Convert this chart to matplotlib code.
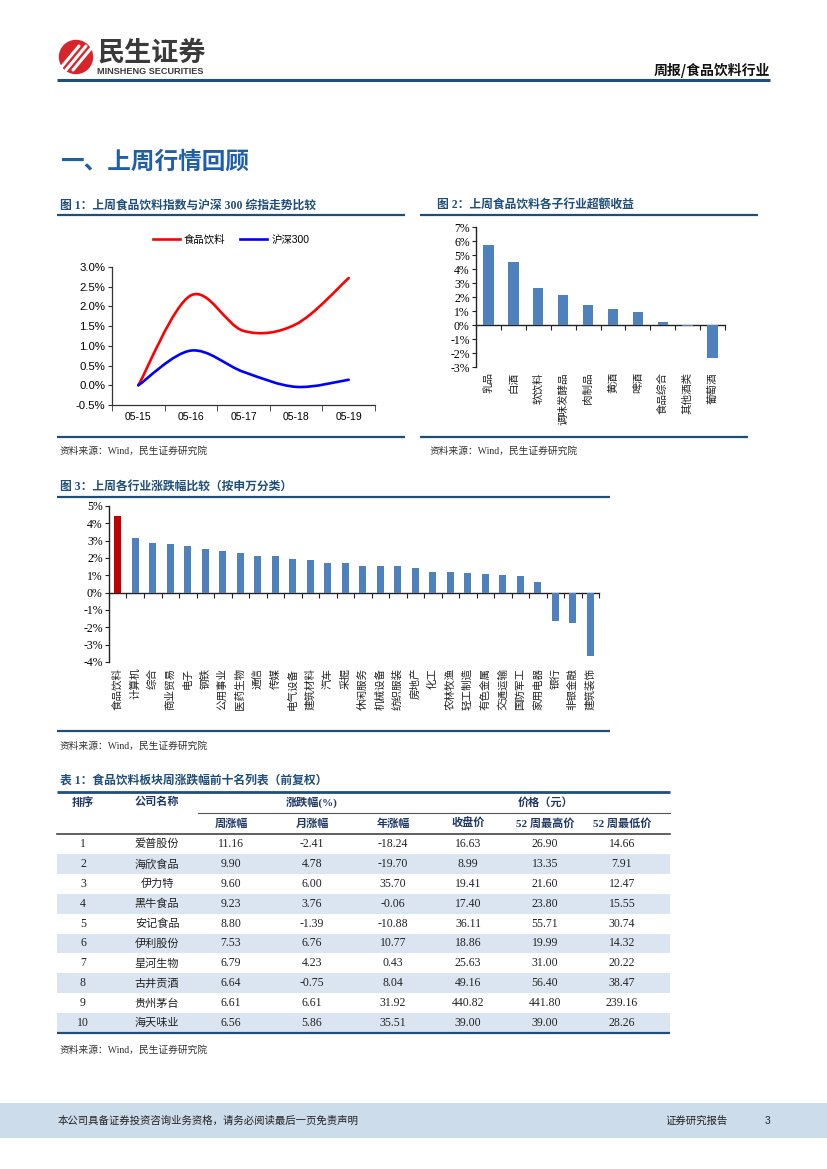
import numpy as np
import matplotlib
matplotlib.use("Agg")
import matplotlib.pyplot as plt
import matplotlib.patches as mpatches
import matplotlib.transforms as mtrans
from matplotlib.path import Path
from matplotlib.lines import Line2D

plt.rcParams['font.family'] = ['Liberation Sans', 'Noto Sans CJK SC']
plt.rcParams['axes.unicode_minus'] = False

W, H = 827, 1169
CJK = ['Noto Sans CJK SC']
SERIF = ['Liberation Serif', 'Noto Sans CJK SC']
SANS = ['Liberation Sans', 'Noto Sans CJK SC']
NAVY = '#1f4e79'
BAR = '#4f81bd'

# 图1 data
dates = ['05-15', '05-16', '05-17', '05-18', '05-19']
food_idx = [0.0, 2.28, 1.38, 1.55, 2.72]
hs300 = [0.0, 0.88, 0.34, -0.04, 0.14]

# 图2 data
sub_names = ['乳品', '白酒', '软饮料', '调味发酵品', '肉制品', '黄酒', '啤酒', '食品综合', '其他酒类', '葡萄酒']
sub_excess = [5.68, 4.50, 2.62, 2.14, 1.43, 1.17, 0.95, 0.19, -0.05, -2.36]

# 图3 data
ind_names = ['食品饮料', '计算机', '综合', '商业贸易', '电子', '钢铁', '公用事业', '医药生物', '通信', '传媒',
             '电气设备', '建筑材料', '汽车', '采掘', '休闲服务', '机械设备', '纺织服装', '房地产', '化工',
             '农林牧渔', '轻工制造', '有色金属', '交通运输', '国防军工', '家用电器', '银行', '非银金融', '建筑装饰']
ind_chg = [4.42, 3.16, 2.89, 2.83, 2.71, 2.52, 2.38, 2.29, 2.11, 2.11,
           1.94, 1.90, 1.69, 1.69, 1.54, 1.53, 1.51, 1.40, 1.22,
           1.22, 1.12, 1.07, 1.03, 0.95, 0.62, -1.65, -1.76, -3.64]

# 表1 data
ranks = list(range(1, 11))
companies = ['爱普股份', '海欣食品', '伊力特', '黑牛食品', '安记食品', '伊利股份', '星河生物', '古井贡酒', '贵州茅台', '海天味业']
week_chg = [11.16, 9.90, 9.60, 9.23, 8.80, 7.53, 6.79, 6.64, 6.61, 6.56]
month_chg = [-2.41, 4.78, 6.00, 3.76, -1.39, 6.76, 4.23, -0.75, 6.61, 5.86]
year_chg = [-18.24, -19.70, 35.70, -0.06, -10.88, 10.77, 0.43, 8.04, 31.92, 35.51]
close_px = [16.63, 8.99, 19.41, 17.40, 36.11, 18.86, 25.63, 49.16, 440.82, 39.00]
high_52w = [26.90, 13.35, 21.60, 23.80, 55.71, 19.99, 31.00, 56.40, 441.80, 39.00]
low_52w = [14.66, 7.91, 12.47, 15.55, 30.74, 14.32, 20.22, 38.47, 239.16, 28.26]

fig = plt.figure(figsize=(8.27, 11.69), dpi=100)

# page overlay in pixel coordinates
bg = fig.add_axes([0, 0, 1, 1], zorder=0)
bg.set_xlim(0, W)
bg.set_ylim(H, 0)
bg.axis('off')


def px_axes(x0, y0, x1, y1):
    return fig.add_axes([x0 / W, 1 - y1 / H, (x1 - x0) / W, (y1 - y0) / H], zorder=2)


def hline(y, x0, x1, color=NAVY, lw=1.6):
    bg.plot([x0, x1], [y, y], color=color, lw=lw, solid_capstyle='butt')


# header
bg.add_patch(mpatches.Circle((76, 57), 16.5, color='#d7262b'))
for dx in (-7, 0, 7):
    bg.plot([66 + dx, 86 + dx], [70, 46], color='white', lw=2.2, solid_capstyle='round')
bg.text(97, 53, '民生证券', fontsize=19.5, fontweight='bold', color='#3a3a3a', family=CJK, va='center')
bg.text(97, 71, 'MINSHENG SECURITIES', fontsize=6.6, fontweight='bold', color='#3a3a3a', va='center')
bg.text(770, 70, '周报/食品饮料行业', fontsize=10, fontweight='bold', color='#111111', family=CJK,
        ha='right', va='center')
hline(80, 57, 770, lw=2.2)

bg.text(60, 162, '一、上周行情回顾', fontsize=17, fontweight='bold', color='#1f5fa8', family=CJK, va='center')

# figure titles and rules
bg.text(60, 206, '图 1：上周食品饮料指数与沪深 300 综指走势比较', fontsize=8.5, fontweight='bold',
        color=NAVY, family=SERIF, va='center')
hline(215, 57, 405)
hline(437, 57, 405)
bg.text(60, 451, '资料来源：Wind，民生证券研究院', fontsize=7, color='#333333', family=SERIF, va='center')

bg.text(437, 206, '图 2：上周食品饮料各子行业超额收益', fontsize=8.5, fontweight='bold',
        color=NAVY, family=SERIF, va='center')
hline(215, 420, 758)
hline(437, 420, 748)
bg.text(430, 451, '资料来源：Wind，民生证券研究院', fontsize=7, color='#333333', family=SERIF, va='center')

bg.text(60, 487, '图 3：上周各行业涨跌幅比较（按申万分类）', fontsize=8.5, fontweight='bold',
        color=NAVY, family=SERIF, va='center')
hline(497, 57, 610)
hline(731, 57, 610)
bg.text(60, 746, '资料来源：Wind，民生证券研究院', fontsize=7, color='#333333', family=SERIF, va='center')


def smooth_path(xs, ys):
    pts = np.column_stack([xs, ys]).astype(float)
    n = len(pts)
    verts = [pts[0]]
    codes = [Path.MOVETO]
    for i in range(n - 1):
        p0 = pts[max(i - 1, 0)]
        p1 = pts[i]
        p2 = pts[i + 1]
        p3 = pts[min(i + 2, n - 1)]
        verts += [p1 + (p2 - p0) / 6, p2 - (p3 - p1) / 6, p2]
        codes += [Path.CURVE4] * 3
    return Path(verts, codes)


# 图1
ax1 = px_axes(112, 267, 375, 405)
xs = np.arange(len(dates))
for vals, col in ((food_idx, '#ff0000'), (hs300, '#0000ff')):
    ax1.add_patch(mpatches.PathPatch(smooth_path(xs, vals), facecolor='none', edgecolor=col,
                                     lw=1.9, capstyle='round', joinstyle='round'))
ax1.set_xlim(-0.5, len(dates) - 0.5)
ax1.set_ylim(-0.5, 3.0)
ax1.set_yticks(np.arange(-0.5, 3.01, 0.5))
ax1.set_yticklabels(['%.1f%%' % v for v in np.arange(-0.5, 3.01, 0.5)], fontsize=8.2, family=SANS)
ax1.set_xticks(xs)
ax1.set_xticklabels(dates, fontsize=7.5, family=SANS)
ax1.set_xticks(np.arange(len(dates) + 1) - 0.5, minor=True)
ax1.tick_params(axis='x', which='major', length=0, pad=5)
ax1.tick_params(axis='x', which='minor', length=4, direction='out', color='#333333')
ax1.tick_params(axis='y', length=3, direction='out', color='#333333', pad=2)
for s in ('top', 'right'):
    ax1.spines[s].set_visible(False)
for s in ('left', 'bottom'):
    ax1.spines[s].set_color('#333333')
    ax1.spines[s].set_linewidth(0.9)
handles = [Line2D([], [], color='#ff0000', lw=1.9), Line2D([], [], color='#0000ff', lw=1.9)]
ax1.legend(handles, ['食品饮料', '沪深300'], loc='center', bbox_to_anchor=(231 / W, 1 - 240 / H),
           bbox_transform=fig.transFigure, ncol=2, frameon=False, handlelength=2.6,
           columnspacing=1.4, handletextpad=0.4, prop={'family': SANS, 'size': 7.5})


def bar_axes(ax, names, vals, ymin, ymax, colors, label_off):
    x = np.arange(len(names))
    ax.bar(x, vals, width=0.42, color=colors, zorder=3)
    ax.set_xlim(-0.5, len(names) - 0.5)
    ax.set_ylim(ymin, ymax)
    ticks = np.arange(ymin, ymax + 1)
    ax.set_yticks(ticks)
    ax.set_yticklabels(['%d%%' % t for t in ticks], fontsize=8.5, family=SERIF)
    ax.set_xticks(np.arange(len(names) + 1) - 0.5)
    ax.set_xticklabels([])
    ax.tick_params(axis='x', length=3.5, direction='out', color='#222222')
    ax.tick_params(axis='y', length=3, direction='out', color='#222222', pad=1.5)
    ax.spines['bottom'].set_position(('data', 0))
    for s in ('top', 'right'):
        ax.spines[s].set_visible(False)
    for s in ('left', 'bottom'):
        ax.spines[s].set_color('#222222')
        ax.spines[s].set_linewidth(1.0)
    tr = mtrans.blended_transform_factory(ax.transData, ax.transAxes)
    for i, nm in enumerate(names):
        ax.text(i, label_off, nm, transform=tr, rotation=90, ha='center', va='top',
                fontsize=7.6, family=CJK, color='#222222')


# 图2
ax2 = px_axes(476, 227, 725, 367)
bar_axes(ax2, sub_names, sub_excess, -3, 7, BAR, -0.036)

# 图3
ax3 = px_axes(109, 506, 599, 662)
bar_axes(ax3, ind_names, ind_chg, -4, 5, ['#c00000'] + [BAR] * (len(ind_names) - 1), -0.038)

# 表1
bg.text(60, 781, '表 1：食品饮料板块周涨跌幅前十名列表（前复权）', fontsize=8.5, fontweight='bold',
        color=NAVY, family=SERIF, va='center')
tx0, tx1 = 57, 670
row_top = 834
row_h = 19.9
col_x = [83, 157, 231, 312, 393, 468, 545, 622]
for i in range(len(ranks)):
    y0 = row_top + i * row_h
    if i % 2 == 1:
        bg.add_patch(mpatches.Rectangle((tx0, y0), tx1 - tx0, row_h, color='#dbe5f1', lw=0))
hline(792, tx0, tx1, lw=2.0)
bg.plot([198, tx1], [813, 813], color='#555555', lw=0.8)
bg.plot([tx0, tx1], [row_top, row_top], color='#444444', lw=1.2)
hline(row_top + len(ranks) * row_h, tx0, tx1, lw=1.6)

hdr_col = '#1f3864'
hkw = dict(fontsize=8, fontweight='bold', color=hdr_col, ha='center', va='center', family=SERIF)
bg.text(col_x[0], 802, '排序', **hkw)
bg.text(col_x[1], 802, '公司名称', **hkw)
bg.text(col_x[3], 802, '涨跌幅(%)', **hkw)
bg.text(col_x[6], 802, '价格（元）', **hkw)
for cx, lab in zip(col_x[2:], ['周涨幅', '月涨幅', '年涨幅', '收盘价', '52 周最高价', '52 周最低价']):
    bg.text(cx, 823.5, lab, **hkw)

vkw = dict(fontsize=8.5, color='#222222', ha='center', va='center', family=SERIF)
for i in range(len(ranks)):
    yc = row_top + (i + 0.5) * row_h
    bg.text(col_x[0], yc, str(ranks[i]), **vkw)
    bg.text(col_x[1], yc, companies[i], fontsize=8, color='#222222', ha='center', va='center', family=CJK)
    for cx, arr in zip(col_x[2:], [week_chg, month_chg, year_chg, close_px, high_52w, low_52w]):
        bg.text(cx, yc, '%.2f' % arr[i], **vkw)

bg.text(60, 1050, '资料来源：Wind，民生证券研究院', fontsize=7, color='#333333', family=SERIF, va='center')

# footer
bg.add_patch(mpatches.Rectangle((0, 1103), W, 35, color='#cddcea', lw=0))
bg.text(58, 1121, '本公司具备证券投资咨询业务资格，请务必阅读最后一页免责声明', fontsize=7.5,
        color='#222222', family=CJK, va='center')
bg.text(665, 1121, '证券研究报告', fontsize=7.5, color='#222222', family=CJK, va='center')
bg.text(765, 1121, '3', fontsize=7.5, color='#222222', family=SANS, va='center')

fig.savefig('out.png', dpi=100)
